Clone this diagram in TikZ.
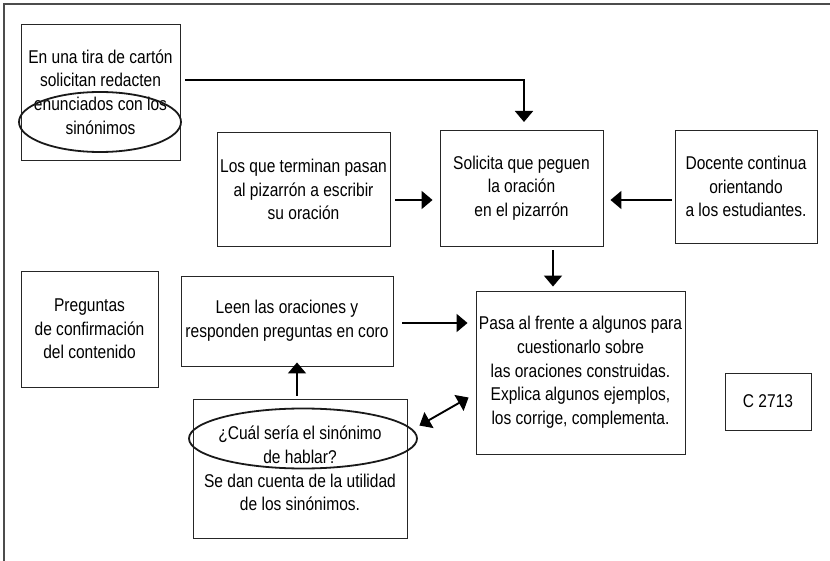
\documentclass[tikz,border=0pt]{standalone}
\usepackage{fontspec}
\setmainfont{Liberation Sans}[FakeStretch=0.84]
\usetikzlibrary{arrows.meta,shapes.geometric}

\tikzset{
    paso/.style={draw=black!85,line width=0.9pt,align=center,
        inner sep=2pt,font=\fontsize{18.5}{23.7}\selectfont},
    flecha/.style={line width=1.9pt,
        -{Triangle[length=11pt,width=18pt]}},
    resalte/.style={draw=black!90,line width=1.8pt,ellipse}
}

\begin{document}
\begin{tikzpicture}[x=1pt,y=-1pt]
    \useasboundingbox (0,0) rectangle (830,561);
    \draw[black!70,line width=2pt] (4,561) -- (4,4) -- (830,4);

    % Columna izquierda.
    \node[paso,minimum width=159pt,minimum height=136pt] (tira) at (100.5,92)
        {En una tira de cartón\\solicitan redacten\\enunciados con los\\sinónimos};
    \node[resalte,minimum width=162pt,minimum height=60pt] (tira-ovalo)
        at (100,122) {};
    \node[paso,minimum width=137pt,minimum height=116pt] (preg) at (89.5,329)
        {Preguntas\\de confirmación\\del contenido};

    % Fila superior.
    \node[paso,minimum width=173pt,minimum height=114pt] (terminan) at (303.5,189.5)
        {Los que terminan pasan\\al pizarrón a escribir\\su oración};
    \node[paso,minimum width=163pt,minimum height=116pt] (pegar) at (521.5,188)
        {Solicita que peguen\\la oración\\en el pizarrón};
    \node[paso,minimum width=142pt,minimum height=113pt] (docente) at (746,186.5)
        {Docente continua\\orientando\\a los estudiantes.};

    % Parte inferior.
    \node[paso,minimum width=212pt,minimum height=90pt] (leen) at (287,321)
        {Leen las oraciones y\\responden preguntas en coro};
    \node[paso,minimum width=209pt,minimum height=163pt] (pasa) at (580.5,372.5)
        {Pasa al frente a algunos para\\cuestionarlo sobre\\las oraciones construidas.\\
         Explica algunos ejemplos,\\los corrige, complementa.};
    \node[paso,minimum width=214pt,minimum height=139pt] (cual) at (300,468.5)
        {¿Cuál sería el sinónimo\\de hablar?\\Se dan cuenta de la utilidad\\de los sinónimos.};
    \node[resalte,minimum width=228pt,minimum height=60pt] (cual-ovalo)
        at (303,438.5) {};
    \node[paso,minimum width=86pt,minimum height=57pt] (clave) at (768,401.5)
        {C 2713};

    % Conectores.
    \coordinate (tira-sal) at (185,80);
    \coordinate (pegar-lleg) at (524,122);
    \draw[flecha] (tira-sal) -| (pegar-lleg);
    \draw[flecha] (terminan.east |- 0,200) ++(5,0)
        -- ([xshift=-7pt]pegar.west |- 0,200);
    \draw[flecha] ([xshift=-3pt]docente.west |- 0,200)
        -- ([xshift=7pt]pegar.east |- 0,200);
    \draw[flecha] ([xshift=31.5pt,yshift=-4pt]pegar.south)
        -- ([xshift=31.5pt,yshift=4pt]pegar.south |- pasa.north);
    \draw[flecha] ([xshift=9pt]leen.east |- 0,323)
        -- ([xshift=-8pt]pasa.west |- 0,323);
    \draw[flecha] ([xshift=-3pt,yshift=3pt]cual.north)
        -- ([xshift=-3pt,yshift=4pt]cual.north |- leen.south);
    \draw[flecha,{Triangle[length=11pt,width=18pt]}-{Triangle[length=11pt,width=18pt]}]
        ([xshift=12pt,yshift=-27pt]cual.north east)
        -- ([xshift=-7pt,yshift=-25pt]pasa.west);
\end{tikzpicture}
\end{document}
